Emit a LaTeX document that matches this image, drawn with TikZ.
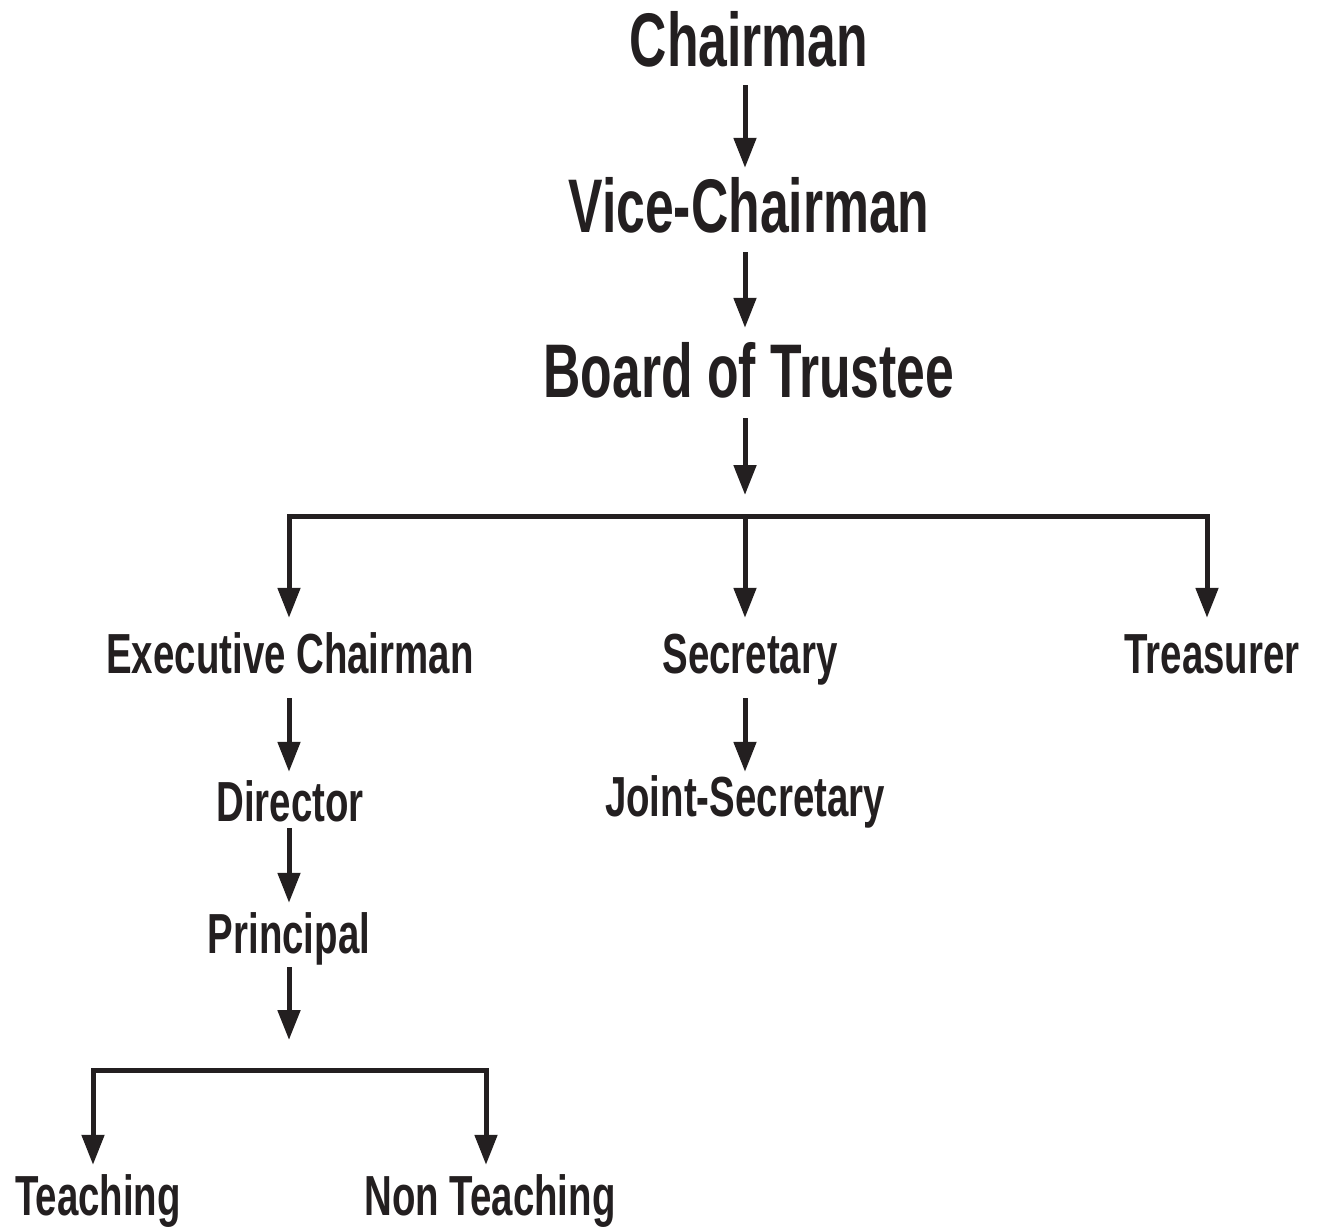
\documentclass[tikz,border=0pt]{standalone}
\usepackage{fontspec}
\newfontfamily\cf[FakeStretch=0.68]{Liberation Sans}
\usetikzlibrary{arrows.meta}
\definecolor{ink}{HTML}{231F20}
\begin{document}
\begin{tikzpicture}[x=1pt,y=-1pt,
 big/.style={inner sep=0pt, anchor=base, text height=54pt, text depth=0pt, font=\cf\bfseries\fontsize{76}{80}\selectfont, text=ink},
 small/.style={inner sep=0pt, anchor=base, text height=41pt, text depth=0pt, font=\cf\bfseries\fontsize{56.5}{60}\selectfont, text=ink},
 link/.style={draw=ink, line width=5pt},
 arr/.style={link, -{Triangle[width=22pt,length=30pt]}}]
\useasboundingbox (0,0) rectangle (1317,1230);
\node[big] (chair) at (749,67) {Chairman};
\node[big] (vice) at (749,233) {Vice-Chairman};
\node[big] (board) at (749,397) {Board of Trustee};
\node[small] (exec) at (290,673) {Executive Chairman};
\node[small] (sec) at (750,673) {Secretary};
\node[small] (treas) at (1212,673) {Treasurer};
\node[small] (dir) at (290,821) {Director};
\node[small] (joint) at (745,816) {Joint-Secretary};
\node[small] (prin) at (289,953) {Principal};
\node[small] (teach) at (98,1215) {Teaching};
\node[small] (nont) at (490,1215) {Non Teaching};
\coordinate (hub) at (745,516);
\coordinate (hub2) at (289,1070);
\draw[arr] ([xshift=-4pt,yshift=-18pt]chair.south) -- ([xshift=-4pt,yshift=11pt]vice.north);
\draw[arr] ([xshift=-4pt,yshift=-19pt]vice.south) -- ([xshift=-4pt,yshift=15pt]board.north);
\draw[arr] ([xshift=-4pt,yshift=-21pt]board.south) -- ([yshift=21pt]hub);
\draw[arr] (hub) -| ([xshift=-1pt,yshift=14pt]exec.north);
\draw[arr] (hub) -| ([xshift=-5pt,yshift=14pt]treas.north);
\draw[arr] (hub) -- ([xshift=-5pt,yshift=14pt]sec.north);
\draw[arr] ([xshift=-1pt,yshift=-25pt]exec.south) -- ([xshift=-1pt,yshift=8pt]dir.north);
\draw[arr] ([xshift=-5pt,yshift=-25pt]sec.south) -- ([yshift=3pt]joint.north);
\draw[arr] ([xshift=-1pt,yshift=-7pt]dir.south) -- ([yshift=9pt]prin.north);
\draw[arr] ([yshift=-14pt]prin.south) -- ([yshift=30pt]hub2);
\draw[arr] (hub2) -| ([xshift=-5pt,yshift=9pt]teach.north);
\draw[arr] (hub2) -| ([xshift=-4pt,yshift=9pt]nont.north);
\end{tikzpicture}
\end{document}
